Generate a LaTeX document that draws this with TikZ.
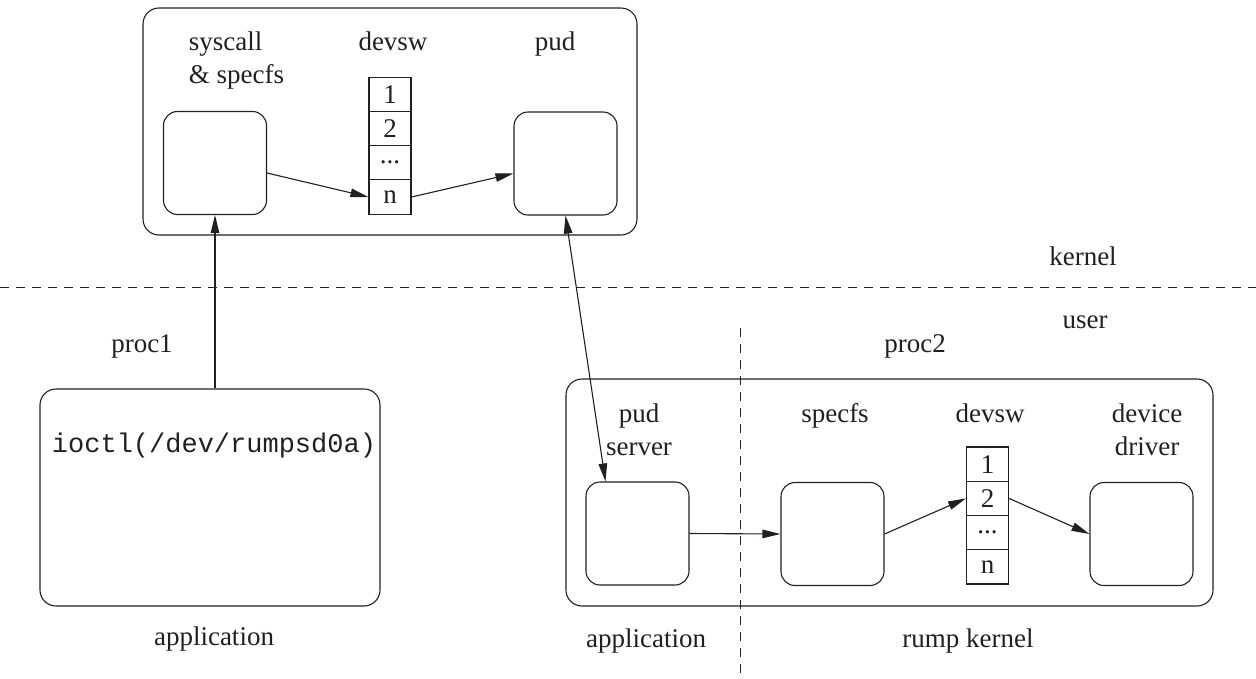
\documentclass[tikz,border=0pt]{standalone}
\usepackage{fontspec}
\setmainfont{Liberation Serif}
\setmonofont{Liberation Mono}
\usetikzlibrary{arrows.meta}
\definecolor{ink}{HTML}{231F20}

\begin{document}
\begin{tikzpicture}[x=1pt, y=-1pt, color=ink, line width=1.1pt,
  every node/.style={font=\fontsize{27}{33}\selectfont},
  region/.style={draw, rounded corners=16pt, inner sep=0pt},
  unit/.style={draw, rounded corners=14pt, inner sep=0pt, minimum width=103pt, minimum height=103pt},
  slot/.style={draw, inner sep=0pt, minimum width=42pt, minimum height=34.25pt},
  flow/.style={-{Triangle[length=18pt,width=8.5pt]}},
  twoway/.style={{Triangle[length=18pt,width=8.5pt]}-{Triangle[length=18pt,width=8.5pt]}},
  sep/.style={line width=1pt, dash pattern=on 9pt off 7pt}]
\useasboundingbox (0,0) rectangle (1256,678);

% kernel side (two-line labels sit on their last baseline)
\node[region, minimum width=494pt, minimum height=227pt] (kern) at (390,121.5) {};
\node[anchor=base west, align=left] (syslbl) at (185,83) {syscall\\\& specfs};
\node[anchor=base] (kdevlbl) at (393,50) {devsw};
\node[anchor=base] (kpudlbl) at (555,50) {pud};
\node[unit] (sys) at (215,163) {};
\node[slot] (k1) at (390,94.25) {1};
\node[slot] (k2) at (390,128.5) {2};
\node[slot] (k3) at (390,162.75) {...};
\node[slot] (kn) at (390,197) {n};
\node[unit] (pud) at (565.5,163.5) {};
\draw[flow] ([yshift=-10pt]sys.east) -- (kn.west);
\draw[flow] (kn.east) -- ([yshift=-10pt]pud.west);

% kernel / user boundary
\draw[sep] (0,287) -- (1256,287);
\node[anchor=base] (kernlbl) at (1083,265) {kernel};
\node[anchor=base] (userlbl) at (1085,328) {user};

% proc1: the application
\node[anchor=base] (p1lbl) at (142,352) {proc1};
\node[region, minimum width=340pt, minimum height=217pt] (app) at (210,497.5) {};
\node[anchor=base, font=\fontsize{27}{33}\selectfont\ttfamily] (call) at (214,452) {ioctl(/dev/rumpsd0a)};
\node[anchor=base] (applbl) at (214,645) {application};
\draw[flow] (sys.south |- app.north) -- (sys.south);

% proc2: pud server and rump kernel
\node[anchor=base] (p2lbl) at (915,352) {proc2};
\node[region, minimum width=647pt, minimum height=227pt] (rump) at (889.5,492.5) {};
\draw[sep] (740,328) -- (740,678);
\node[anchor=base, align=center] (srvlbl) at (639,455) {pud\\server};
\node[anchor=base] (speclbl) at (835,422) {specfs};
\node[anchor=base] (rdevlbl) at (990,422) {devsw};
\node[anchor=base, align=center] (drvlbl) at (1147,455) {device\\driver};
\node[unit] (srv) at (637.5,533.5) {};
\node[unit] (spec) at (832.5,534) {};
\node[slot] (r1) at (987.5,464.1) {1};
\node[slot] (r2) at (987.5,498.4) {2};
\node[slot] (r3) at (987.5,532.6) {...};
\node[slot] (rn) at (987.5,566.9) {n};
\node[unit] (drv) at (1141.5,534) {};
\node[anchor=base] (app2lbl) at (646,647) {application};
\node[anchor=base] (rklbl) at (968,647) {rump kernel};
\draw[flow] (srv.east) -- (spec.west);
\draw[flow] (spec.east) -- (r2.west);
\draw[flow] (r2.east) -- (drv.west);

\draw[twoway] (pud.south) -- ([xshift=-32pt]srv.north);
\end{tikzpicture}
\end{document}
